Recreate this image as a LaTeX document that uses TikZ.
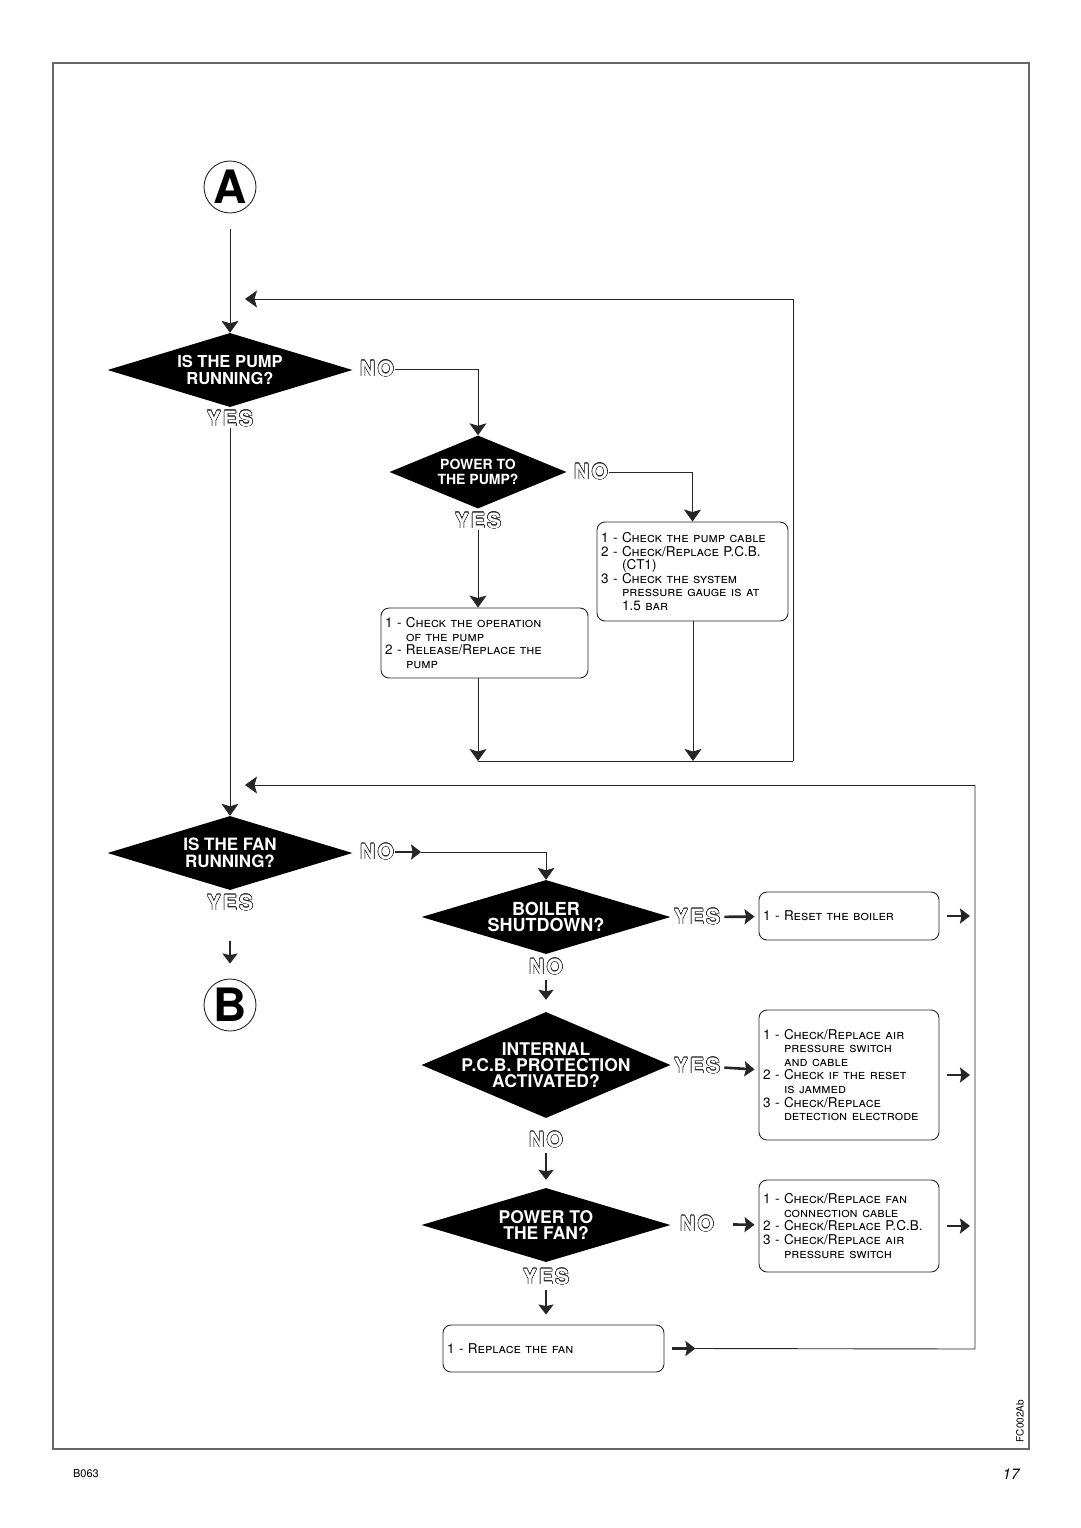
\documentclass[tikz,border=0pt]{standalone}
\usepackage{fontspec}
\setmainfont{TeX Gyre Heros}
\newfontfamily\answerfont[LetterSpace=10]{TeX Gyre Heros}
\usepackage{contour}
\contourlength{0.55pt}
\usetikzlibrary{shapes.geometric}
\usetikzlibrary{arrows.meta}
\usetikzlibrary{positioning}
\newcommand\outl[1]{\contour{black!85}{\textcolor{white}{#1}}}
\newcommand\ind{\phantom{1 - }}
\tikzset{every node/.style={align=center},
         decision/.style={ % Sets the properties for each question
           shape=diamond, fill=black, inner sep=0pt},
         qtext/.style={    % White text on the diamonds
           text=white, inner sep=0pt},
         todo/.style={     % Boxes with the things to check
           draw=black!85, line width=0.9pt, rounded corners=8pt,
           align=left, inner sep=4pt,
           font=\fontsize{13.5}{13.6}\selectfont},
         letter/.style={   % Connector circles
           circle, draw=black!85, line width=0.9pt, minimum size=52pt,
           inner sep=0pt, font=\fontsize{46}{46}\selectfont\bfseries},
         answer/.style={   % Hollow YES / NO
           inner sep=1pt, font=\fontsize{21}{21}\selectfont\answerfont\bfseries},
         wire/.style={draw=black!85, line width=0.9pt},
         con/.style={wire, -{Stealth[length=12pt,width=17pt,inset=2.5pt]}},
         sarr/.style={wire, line width=2.6pt,
           -{Stealth[length=10pt,width=15pt,inset=1.5pt]}}}

\begin{document}
\begin{tikzpicture}[x=1pt, y=-1pt]
  \useasboundingbox (0,0) rectangle (1080,1528);
  \draw[black!60, line width=2.2pt] (53,63) rectangle (1029,1449);

  % first part: pump
  \node [letter] (A) at (230,187) {A};

  \node [decision, minimum width=245pt, minimum height=74pt] (d1) at (230,370) {};
  \node [qtext, font=\bfseries\fontsize{16.5}{16.5}\selectfont] (t1) at (d1) {IS THE PUMP\\RUNNING?};
  \node [answer] (no1) at (377,369) {\outl{NO}};
  \node [answer] (yes1) at (230,419) {\outl{YES}};

  \node [decision, minimum width=177pt, minimum height=73pt] (d2) at (478,472) {};
  \node [qtext, font=\bfseries\fontsize{14}{15}\selectfont] (t2) at (d2) {POWER TO\\THE PUMP?};
  \node [answer] (no2) at (591,472) {\outl{NO}};
  \node [answer] (yes2) at (478,521) {\outl{YES}};

  \node [todo, text width=199pt, minimum height=70pt] (b1) at (484.5,643) {
    1 - \textsc{Check the operation}\\
    \ind\textsc{of the pump}\\
    2 - \textsc{Release/Replace the}\\
    \ind\textsc{pump}};
  \node [todo, text width=183pt, minimum height=99pt] (b2) at (692.5,571.5) {
    1 - \textsc{Check the pump cable}\\
    2 - \textsc{Check/Replace} P.C.B.\\
    \ind(CT1)\\
    3 - \textsc{Check the system}\\
    \ind\textsc{pressure gauge is at}\\
    \ind 1.5 \textsc{bar}};

  \coordinate (j1) at (478,761);
  \coordinate (j2) at (693,761);
  \coordinate (r1) at (793,761);
  \coordinate (e1) at (245,299);

  \draw [con, shorten <=16pt] (A) -- (d1.north);
  \draw [con] (no1.east) -| (d2.north);
  \draw [con] (no2.east) -| (b2.north);
  \draw [con] (yes2.south) -- (yes2.south |- b1.north);
  \draw [con] (b1.south -| j1) -- (j1);
  \draw [con] (b2.south -| j2) -- (j2);
  \draw [wire] (j1) -- (r1);
  \draw [con] (r1) |- (e1);

  % second part: fan
  \node [decision, minimum width=245pt, minimum height=74pt] (d3) at (230,853) {};
  \node [qtext, font=\bfseries\fontsize{17}{17}\selectfont] (t3) at (d3) {IS THE FAN\\RUNNING?};
  \node [answer] (no3) at (377,852) {\outl{NO}};
  \node [answer] (yes3) at (230,903) {\outl{YES}};
  \node [letter] (B) at (230,1005) {B};

  \node [decision, minimum width=249pt, minimum height=74pt] (d4) at (546,917) {};
  \node [qtext, font=\bfseries\fontsize{18}{16}\selectfont] (t4) at (d4) {BOILER\\SHUTDOWN?};
  \node [answer] (yes4) at (697,917) {\outl{YES}};
  \node [answer] (no4) at (546,967) {\outl{NO}};

  \node [decision, minimum width=249pt, minimum height=106pt] (d5) at (546,1065) {};
  \node [qtext, font=\bfseries\fontsize{17.5}{16}\selectfont] (t5) at (d5) {INTERNAL\\P.C.B. PROTECTION\\ACTIVATED?};
  \node [answer] (yes5) at (697,1066) {\outl{YES}};
  \node [answer] (no5) at (546,1140) {\outl{NO}};

  \node [decision, minimum width=249pt, minimum height=74pt] (d6) at (546,1225) {};
  \node [qtext, font=\bfseries\fontsize{17.5}{16}\selectfont] (t6) at (d6) {POWER TO\\THE FAN?};
  \node [answer] (no6) at (697,1224) {\outl{NO}};
  \node [answer] (yes6) at (546,1277) {\outl{YES}};

  \node [todo, text width=172pt, minimum height=48pt] (b3) at (849,916) {
    1 - \textsc{Reset the boiler}};
  \node [todo, text width=172pt, minimum height=130pt] (b4) at (849,1075) {
    1 - \textsc{Check/Replace air}\\
    \ind\textsc{pressure switch}\\
    \ind\textsc{and cable}\\
    2 - \textsc{Check if the reset}\\
    \ind\textsc{is jammed}\\
    3 - \textsc{Check/Replace}\\
    \ind\textsc{detection electrode}};
  \node [todo, text width=172pt, minimum height=92pt] (b5) at (849,1226) {
    1 - \textsc{Check/Replace fan}\\
    \ind\textsc{connection cable}\\
    2 - \textsc{Check/Replace} P.C.B.\\
    3 - \textsc{Check/Replace air}\\
    \ind\textsc{pressure switch}};
  \node [todo, text width=213pt, minimum height=47pt] (b6) at (553.5,1348.5) {
    1 - \textsc{Replace the fan}};

  \coordinate (r3) at (975,1349);
  \coordinate (r4) at (975,785);
  \coordinate (e2) at (245,785);

  \draw [con] (yes1.south) -- (d3.north);
  \draw [sarr] (no3.east) -- ++(26,0) coordinate (k3);
  \draw [con] (k3) -| (d4.north);
  \draw [sarr, shorten <=29pt, shorten >=15pt] (yes3) -- (B);
  \draw [sarr, shorten <=3pt, shorten >=4pt] (yes4) -- (b3);
  \draw [sarr, shorten <=4pt, shorten >=12pt] (no4) -- (d5.north);
  \draw [sarr, shorten <=3pt, shorten >=4pt] (yes5) -- (b4);
  \draw [sarr, shorten <=4pt, shorten >=8pt] (no5) -- (d6.north);
  \draw [sarr, shorten <=18pt, shorten >=4pt] (no6) -- (b5);
  \draw [sarr, shorten <=4pt, shorten >=10pt] (yes6.south) -- (yes6.south |- b6.north);
  \draw [sarr, shorten <=8pt, shorten >=5pt] (b3.east) -- (b3.east -| r3);
  \draw [sarr, shorten <=8pt, shorten >=5pt] (b4.east) -- (b4.east -| r3);
  \draw [sarr, shorten <=8pt, shorten >=5pt] (b5.east) -- (b5.east -| r3);
  \draw [sarr, shorten <=8pt] (b6.east) -- ++(31,0) coordinate (k6);
  \draw [wire] (k6) -- (r3) -- (r4);
  \draw [con] (r4) -- (e2);

  % page marks
  \node [font=\fontsize{11}{11}\selectfont] (code) at (86,1474) {B063};
  \node [font=\itshape\fontsize{15}{15}\selectfont] (page) at (1011,1474) {17};
  \node [rotate=90, font=\fontsize{10}{10}\selectfont] (fcref) at (1020,1421) {FC002Ab};
\end{tikzpicture}
\end{document}
